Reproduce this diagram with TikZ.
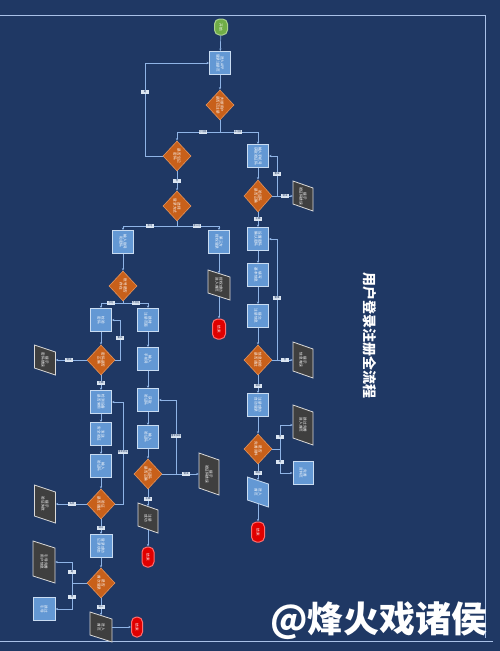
\documentclass[tikz,border=0pt]{standalone}
\usepackage{fontspec}
\newfontfamily\cjk{Noto Sans CJK SC}
\usetikzlibrary{shapes.geometric,arrows.meta}
\definecolor{bgC}{HTML}{1F3864}
\definecolor{lineC}{HTML}{8FB4E6}
\definecolor{frameC}{HTML}{A9C1E8}
\definecolor{boxF}{HTML}{6398D4}
\definecolor{boxD}{HTML}{C9DCF2}
\definecolor{diaF}{HTML}{C8601A}
\definecolor{diaD}{HTML}{E5935A}
\definecolor{ioF}{HTML}{3F3F3F}
\definecolor{ioD}{HTML}{D9D9D9}
\definecolor{redF}{HTML}{E00000}
\definecolor{redD}{HTML}{FF7070}
\definecolor{grnF}{HTML}{70AD47}
\definecolor{grnD}{HTML}{A9D18E}
\definecolor{lblF}{HTML}{DCE6F2}
\tikzset{
  conn/.style={draw=lineC, line width=0.7pt, -{Stealth[length=2.6pt,width=2.2pt]}},
  boxs/.style={rectangle, fill=boxF, draw=boxD, line width=0.8pt, minimum width=21pt, minimum height=23pt, inner sep=0pt},
  dia/.style={diamond, fill=diaF, draw=diaD, line width=0.6pt, minimum width=28pt, minimum height=30pt, inner sep=0pt},
  endt/.style={rectangle, rounded corners=5pt, fill=redF, draw=redD, line width=1pt, minimum width=13pt, minimum height=20pt, inner sep=0pt},
  startt/.style={rectangle, rounded corners=5pt, fill=grnF, draw=grnD, line width=1pt, minimum width=13pt, minimum height=16pt, inner sep=0pt},
  txt/.style={font=\cjk\fontsize{3.6}{4.2}\selectfont, text=white, align=center, inner sep=0pt},
  lbl/.style={fill=lblF, text=bgC, font=\cjk\fontsize{2.4}{2.4}\selectfont, inner sep=0.6pt, minimum width=8pt, minimum height=3.6pt},
  iofill/.style={fill=ioF, draw=ioD, line width=0.8pt},
  bluefill/.style={fill=boxF, draw=boxD, line width=0.8pt}
}
% node with text rotated
\newcommand{\nd}[5]{\node[#1] (#2) at (#3,#4) {}; \node[txt,rotate=-90] at (#2.center) {#5};}
% slanted I/O box: name, x, y, w, h, style, text
\newcommand{\iob}[7]{%
  \path[#6] ({#2-#4/2},{#3-#5/2}) -- ({#2+#4/2},{#3-#5/2+7}) -- ({#2+#4/2},{#3+#5/2}) -- ({#2-#4/2},{#3+#5/2-7}) -- cycle;
  \node[inner sep=0pt, minimum width=#4pt, minimum height={#5pt-7pt}] (#1) at (#2,#3) {};
  \node[txt,rotate=-90] at (#1.center) {#7};}
\begin{document}
\begin{tikzpicture}[x=1pt,y=-1pt]
\fill[bgC] (0,0) rectangle (500,651);
\useasboundingbox (0,0) rectangle (500,651);
% frame
\draw[frameC, line width=0.8pt] (0,15) -- (485,15) -- (485,638);
\draw[frameC, line width=0.8pt] (0,641) -- (493,641);

% main column
\nd{startt}{st}{221}{27}{开始}
\nd{boxs}{b1}{220}{63}{进入APP\\登录注册页}
\nd{dia}{d1}{220}{105}{判断用户\\是否已注册}
\nd{dia}{d2}{177}{156}{是否忘记\\密码}
\nd{dia}{d3}{177}{206}{选择\\登录方式}
\nd{boxs}{m1}{219}{242}{第三方\\授权登录}
\iob{m2}{219}{285}{22}{30}{iofill}{授权成功\\进入首页}
\nd{endt}{m3}{219}{329}{结束}

% login branch
\nd{boxs}{l1}{123}{242}{输入账号\\和密码}
\nd{dia}{l2}{123}{286}{账号是否\\存在}
\nd{boxs}{la1}{101}{320}{校验\\密码}
\nd{dia}{la2}{101}{360}{密码是否\\正确}
\iob{lp1}{45}{360}{21}{30}{iofill}{提示\\密码错误}
\nd{boxs}{la3}{101}{402}{检测设备\\是否常用}
\nd{boxs}{la4}{101}{434}{发送\\安全验证}
\nd{boxs}{la5}{101}{466}{输入\\验证码}
\nd{dia}{la6}{101}{504}{验证\\是否通过}
\iob{lp2}{45}{504}{21}{38}{iofill}{提示\\验证失败}
\nd{boxs, minimum width=22pt}{la7}{101}{546}{登录成功\\记录状态}
\nd{dia}{la8}{101}{583}{是否\\首次登录}
\iob{lp3}{44}{562}{22}{42}{iofill}{引导完善\\用户信息}
\nd{boxs, minimum width=22pt}{lbx}{44}{609}{跳过\\引导}
\iob{la9}{101}{627}{22}{30}{iofill}{进入\\首页}
\nd{endt, minimum width=11pt}{la10}{137}{627}{结束}

% register inside login branch
\nd{boxs}{lb1}{148}{320}{跳转\\注册页面}
\nd{boxs}{lb2}{148}{359}{输入\\手机号}
\nd{boxs}{lb3}{148}{400}{获取\\验证码}
\nd{boxs}{lb4}{148}{437}{输入\\验证码}
\nd{dia}{lb5}{148}{474}{验证码\\是否正确}
\iob{lp4}{209}{474}{20}{42}{iofill}{提示\\验证码错误}
\iob{lb6}{148}{518}{20}{30}{iofill}{注册\\成功}
\nd{endt, minimum width=12pt}{lb7}{148}{557}{结束}

% register branch
\nd{boxs}{r1}{258}{156}{输入手机号\\获取验证码}
\nd{dia, minimum height=32pt}{r2}{258}{196}{验证码\\是否正确}
\iob{p1}{303}{196}{20}{30}{iofill}{提示\\验证码错误}
\nd{boxs}{r3}{258}{239}{设置密码\\确认密码}
\nd{boxs}{r4}{258}{275}{填写\\基本信息}
\nd{boxs}{r5}{258}{316}{提交\\注册信息}
\nd{dia}{r6}{258}{360}{信息校验\\是否通过}
\iob{p2}{303}{360}{20}{36}{iofill}{提示\\信息有误}
\nd{boxs}{r7}{258}{405}{注册成功\\自动登录}
\nd{dia}{r8}{258}{449}{是否\\完善资料}
\iob{p3}{303}{425}{20}{40}{iofill}{跳过完善\\进入首页}
\nd{boxs, minimum width=20pt}{rb}{303}{473}{完善\\资料页}
\iob{r9}{258}{492}{21}{30}{bluefill}{进入\\首页}
\nd{endt}{r10}{258}{532}{结束}

% title and watermark
\node[font=\cjk\bfseries\fontsize{14}{14}\selectfont, text=white, rotate=-90] (title) at (370,335) {用户登录注册全流程};
\node[font=\cjk\bfseries\fontsize{36}{36}\selectfont, text=white] (wm) at (379,621) {@烽火戏诸侯};

% connectors: main
\draw[conn] (st) -- (b1);
\draw[conn] (b1) -- (d1);
\coordinate (j1) at (220,132);
\draw[conn] (d1.south) -- (j1) -| (d2.north);
\draw[conn] (j1) -| (r1.north);
\node[lbl] at (203,132) {已注册};
\node[lbl] at (238,132) {未注册};
\coordinate (c1) at (145,156);
\draw[conn] (d2.west) -- (c1) |- (b1.west);
\node[lbl] at (145,92) {是};
\draw[conn] (d2) -- (d3);
\node[lbl] at (177,181) {否};
\coordinate (j2) at (177,226);
\draw[conn] (d3.south) -- (j2) -| (l1.north);
\draw[conn] (j2) -| (m1.north);
\node[lbl] at (150,226) {账号};
\node[lbl] at (197,226) {第三方};
\draw[conn] (m1) -- (m2);
\draw[conn] (m2) -- (m3);

% register branch connectors
\draw[conn] (r1) -- (r2);
\coordinate (c2) at (277,196);
\draw[conn] (r2.east) -- (p1.west);
\draw[conn] (c2) |- (r1.east);
\node[lbl] at (277,174) {重试};
\node[lbl] at (285,196) {错误};
\draw[conn] (r2) -- (r3);
\node[lbl] at (258,219) {正确};
\draw[conn] (r3) -- (r4);
\draw[conn] (r4) -- (r5);
\draw[conn] (r5) -- (r6);
\coordinate (c3) at (277,360);
\draw[conn] (r6.east) -- (p2.west);
\draw[conn] (c3) |- (r3.east);
\node[lbl] at (277,298) {重填};
\node[lbl] at (285,360) {否};
\draw[conn] (r6) -- (r7);
\node[lbl] at (258,386) {通过};
\draw[conn] (r7) -- (r8);
\coordinate (c4) at (280,449);
\draw[conn] (r8.east) -- (c4) |- (p3.west);
\draw[conn] (c4) |- (rb.west);
\node[lbl] at (280,437) {否};
\node[lbl] at (280,462) {是};
\draw[conn] (r8) -- (r9);
\node[lbl] at (258,473) {稍后};
\draw[conn] (r9) -- (r10);

% login connectors
\draw[conn] (l1) -- (l2);
\coordinate (j3) at (123,303);
\draw[conn] (l2.south) -- (j3) -| (la1.north);
\draw[conn] (j3) -| (lb1.north);
\node[lbl] at (111,303) {存在};
\node[lbl] at (136,303) {不存在};
\draw[conn] (la1) -- (la2);
\draw[conn] (la2.west) -- (lp1.east);
\node[lbl] at (69,360) {错误};
\coordinate (c5) at (120,360);
\draw[conn] (la2.east) -- (c5) |- (la1.east);
\node[lbl] at (120,338) {重试};
\draw[conn] (la2) -- (la3);
\node[lbl] at (101,383) {正确};
\draw[conn] (la3) -- (la4);
\draw[conn] (la4) -- (la5);
\draw[conn] (la5) -- (la6);
\draw[conn] (la6.west) -- (lp2.east);
\node[lbl] at (72,504) {失败};
\coordinate (c6) at (123,504);
\draw[conn] (la6.east) -- (c6) |- (la3.east);
\node[lbl] at (123,452) {重新验证};
\draw[conn] (la6) -- (la7);
\node[lbl] at (101,528) {通过};
\draw[conn] (la7) -- (la8);
\coordinate (c7) at (72,583);
\draw[conn] (la8.west) -- (c7) |- (lp3.east);
\draw[conn] (c7) |- (lbx.east);
\node[lbl] at (72,572) {是};
\node[lbl] at (72,597) {否};
\draw[conn] (la8) -- (la9);
\node[lbl] at (101,607) {进入};
\draw[conn] (la9) -- (la10);

% register-in-login connectors
\draw[conn] (lb1) -- (lb2);
\draw[conn] (lb2) -- (lb3);
\draw[conn] (lb3) -- (lb4);
\draw[conn] (lb4) -- (lb5);
\draw[conn] (lb5.east) -- (lp4.west);
\node[lbl] at (186,474) {错误};
\coordinate (c8) at (176,474);
\draw[conn] (c8) |- (lb3.east);
\node[lbl] at (176,436) {重新获取};
\draw[conn] (lb5) -- (lb6);
\node[lbl] at (148,499) {正确};
\draw[conn] (lb6) -- (lb7);
\end{tikzpicture}
\end{document}
